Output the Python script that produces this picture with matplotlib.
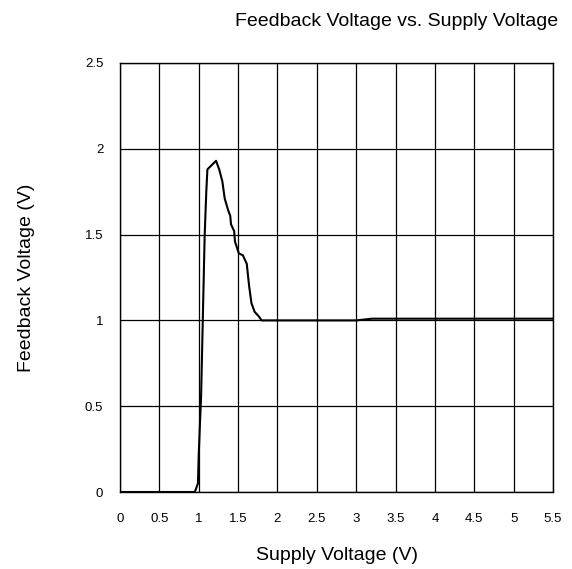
import matplotlib.pyplot as plt

plt.rcParams['font.family'] = ['Liberation Sans', 'DejaVu Sans']

# supply voltage (V) and feedback voltage (V)
supply = [0.0, 0.5, 0.95, 0.99, 1.0, 1.03, 1.05, 1.075, 1.096, 1.11, 1.22, 1.26,
          1.30, 1.33, 1.375, 1.40, 1.41, 1.45, 1.46, 1.51, 1.56, 1.61, 1.64,
          1.67, 1.71, 1.76, 1.80, 2.5, 3.0, 3.2, 4.0, 5.5]
feedback = [0.0, 0.0, 0.0, 0.05, 0.22, 0.56, 0.97, 1.49, 1.75, 1.88, 1.93, 1.88,
            1.81, 1.71, 1.64, 1.61, 1.56, 1.52, 1.46, 1.39, 1.38, 1.33, 1.20,
            1.10, 1.05, 1.025, 1.0, 1.0, 1.0, 1.01, 1.01, 1.01]

xticks = [0, 0.5, 1, 1.5, 2, 2.5, 3, 3.5, 4, 4.5, 5, 5.5]
xlabels = ['0', '0.5', '1', '1.5', '2', '2.5', '3', '3.5', '4', '4.5', '5', '5.5']
yticks = [0, 0.5, 1, 1.5, 2, 2.5]
ylabels = ['0', '0.5', '1', '1.5', '2', '2.5']

fig = plt.figure(figsize=(5.72, 5.69), dpi=100)
ax = fig.add_axes([0.2098, 0.1353, 0.7570, 0.7540])

ax.plot(supply, feedback, color='black', lw=1.5)

ax.set_xlim(0, 5.5)
ax.set_ylim(0, 2.5)
ax.set_xticks(xticks)
ax.set_xticklabels(xlabels)
ax.set_yticks(yticks)
ax.set_yticklabels(ylabels)
ax.tick_params(axis='both', length=0, labelsize=9.5)
ax.tick_params(axis='x', pad=15)
ax.tick_params(axis='y', pad=12)
ax.grid(True, color='black', lw=0.9)
for s in ax.spines.values():
    s.set_color('black')
    s.set_linewidth(1.0)

ax.set_xlabel('Supply Voltage (V)', fontsize=14, labelpad=16)
ax.set_ylabel('Feedback Voltage (V)', fontsize=14, labelpad=36)
fig.text(0.694, 0.962, 'Feedback Voltage vs. Supply Voltage', fontsize=14,
         ha='center', va='center')

fig.savefig('out.png', dpi=100)
